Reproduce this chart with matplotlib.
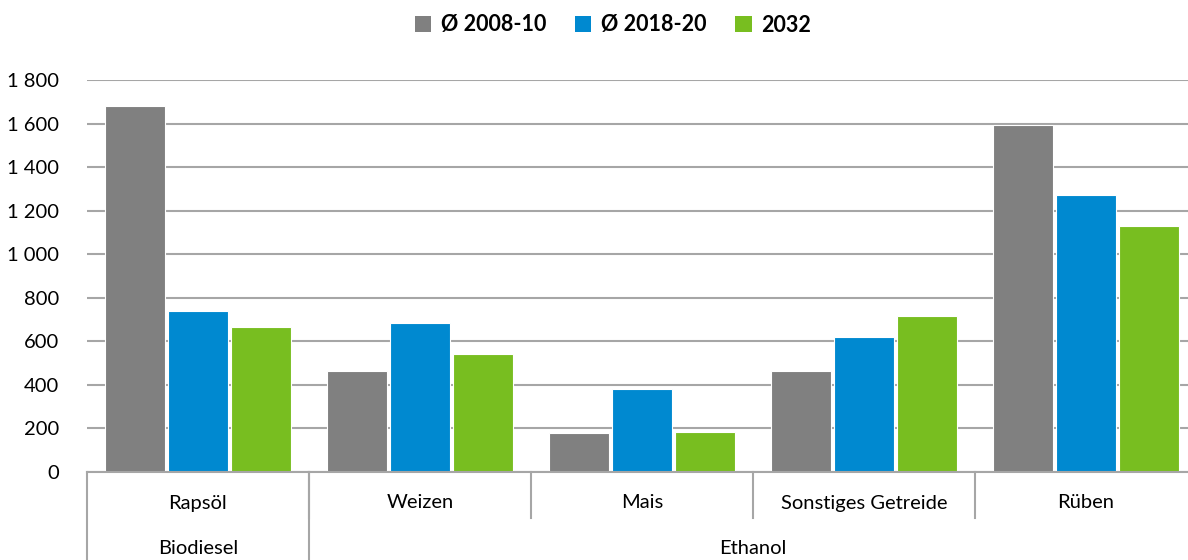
import matplotlib
matplotlib.use('Agg')
import matplotlib.pyplot as plt
from matplotlib.patches import Patch
import numpy as np

plt.rcParams['font.family'] = ['Lato', 'DejaVu Sans']

categories = ['Rapsöl', 'Weizen', 'Mais', 'Sonstiges Getreide', 'Rüben']
groups = ['Biodiesel', 'Ethanol']
group_spans = [(0, 1), (1, 5)]  # category index ranges per group
series_names = ['Ø 2008-10', 'Ø 2018-20', '2032']
vals_2008 = [1680, 464, 179, 463, 1592]
vals_2018 = [740, 684, 380, 620, 1271]
vals_2032 = [666, 542, 183, 717, 1130]
colors = ['#808080', '#0089D0', '#78BE20']
yticks = [0, 200, 400, 600, 800, 1000, 1200, 1400, 1600, 1800]

fig = plt.figure(figsize=(11.88, 5.6), dpi=100)
ax = fig.add_axes([87/1188, 88/560, 1 - 87/1188, 392/560])

x = np.arange(len(categories))
step = 0.284
width = 0.272
for i, (vals, c) in enumerate(zip([vals_2008, vals_2018, vals_2032], colors)):
    ax.bar(x + (i - 1) * step, vals, width, color=c, edgecolor='white',
           linewidth=0.8, zorder=3)

ax.set_xlim(-0.5, 4.5 - 9/222)
ax.set_ylim(0, 1800)
ax.set_yticks(yticks)
ax.set_yticklabels([f'{v:,}'.replace(',', ' ') for v in yticks], fontsize=14.5)
ax.tick_params(axis='y', length=0, pad=20)
ax.tick_params(axis='x', length=0, labelbottom=False)
ax.grid(axis='y', color='#A6A6A6', linewidth=1.5, zorder=0)
for s in ['top', 'right', 'left']:
    ax.spines[s].set_visible(False)
ax.spines['bottom'].set_color('#A6A6A6')
ax.spines['bottom'].set_linewidth(1.5)
ax.spines['bottom'].set_zorder(4)

# category labels and separators below the axis
tr = ax.get_xaxis_transform()
for i, cat in enumerate(categories):
    ax.text(i, -31/392, cat, transform=tr, ha='center', va='center', fontsize=14.5)
for b in range(1, len(categories)):
    ax.plot([b - 0.5, b - 0.5], [0, -46/392], transform=tr, color='#A6A6A6',
            lw=1.5, clip_on=False)
for g, (a, b) in zip(groups, group_spans):
    ax.text((a + b - 1) / 2, -77/392, g, transform=tr, ha='center', va='center', fontsize=14.5)
    ax.plot([a - 0.5, a - 0.5], [0, -88/392], transform=tr, color='#A6A6A6',
            lw=1.5, clip_on=False)

handles = [Patch(facecolor=c, edgecolor='none') for c in colors]
fig.legend(handles, series_names, loc='center', bbox_to_anchor=(0.516, 1 - 25/560),
           ncol=3, frameon=False, prop={'weight': 'bold', 'size': 15.5},
           handlelength=0.75, handleheight=0.75, handletextpad=0.45, columnspacing=1.35)

fig.savefig('out.png', dpi=100)
